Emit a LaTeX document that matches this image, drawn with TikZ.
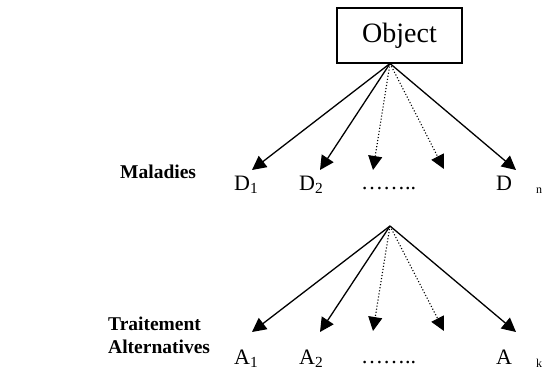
\documentclass[tikz,border=0pt]{standalone}
\usepackage{fontspec}
\setmainfont{Liberation Serif}
\usetikzlibrary{arrows.meta}
\tikzset{
  x=1pt, y=-1pt,
  arr/.style={line width=1.3pt, -{Triangle[length=14pt,width=14pt]}},
  darr/.style={line width=1.1pt, dotted, -{Triangle[length=14pt,width=14pt]}},
  lbl/.style={inner sep=0pt, font=\fontsize{22}{24}\selectfont},
  cat/.style={inner sep=0pt, font=\fontsize{19.5}{23}\selectfont\bfseries, align=left},
}
\begin{document}
\begin{tikzpicture}
\useasboundingbox (0,0) rectangle (543,375);
\node[draw, line width=1.1pt, minimum width=125pt, minimum height=55pt, inner sep=0pt,
      font=\fontsize{28}{30}\selectfont] (obj) at (399.5,35.5) {Object};
% top fan
\coordinate (ta) at (390,63.5);
\coordinate (t1) at (252,170);
\coordinate (t2) at (320,170);
\coordinate (t3) at (373,170);
\coordinate (t4) at (444,169);
\coordinate (t5) at (516,170);
\draw[arr] (ta) -- (t1);
\draw[arr] (ta) -- (t2);
\draw[darr] (ta) -- (t3);
\draw[darr] (ta) -- (t4);
\draw[arr] (ta) -- (t5);
% bottom fan
\coordinate (ba) at (390,226);
\coordinate (b1) at (252,332);
\coordinate (b2) at (320,332);
\coordinate (b3) at (373,331);
\coordinate (b4) at (444,331);
\coordinate (b5) at (516,332);
\draw[arr] (ba) -- (b1);
\draw[arr] (ba) -- (b2);
\draw[darr] (ba) -- (b3);
\draw[darr] (ba) -- (b4);
\draw[arr] (ba) -- (b5);
% labels
\node[lbl, anchor=base west] (d1) at (234,190) {D\textsubscript{1}};
\node[lbl, anchor=base west] (d2) at (299,190) {D\textsubscript{2}};
\node[lbl, anchor=base west] (dd) at (361,189) {……..};
\node[lbl, anchor=base west] (dn) at (496,190) {D\hspace{24pt}\raisebox{-3pt}{\fontsize{12}{14}\selectfont n}};
\node[lbl, anchor=base west] (a1) at (234,364) {A\textsubscript{1}};
\node[lbl, anchor=base west] (a2) at (299,364) {A\textsubscript{2}};
\node[lbl, anchor=base west] (ad) at (361,363) {……..};
\node[lbl, anchor=base west] (an) at (496,364) {A\hspace{24pt}\raisebox{-3pt}{\fontsize{12}{14}\selectfont k}};
\node[cat, anchor=base west] (mal) at (120,178) {Maladies};
\node[cat, anchor=north west] (tra) at (108,317) {Traitement\\Alternatives};
\end{tikzpicture}
\end{document}
